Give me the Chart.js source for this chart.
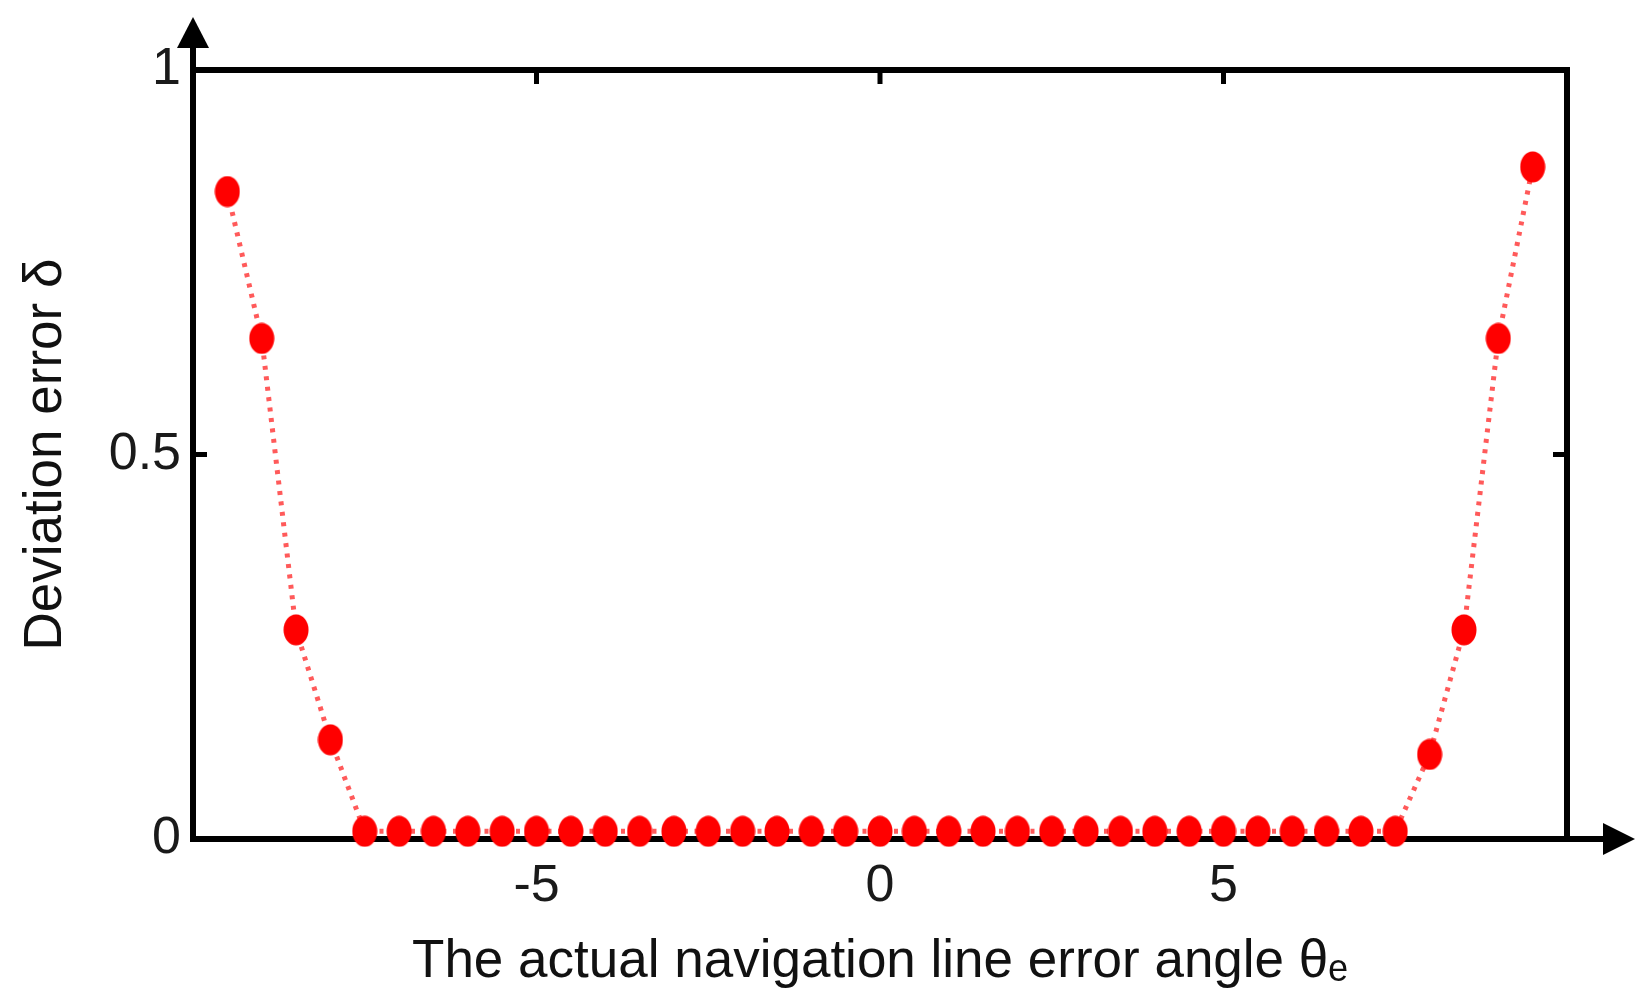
<!DOCTYPE html>
<html>
<head>
<meta charset="utf-8">
<script src="https://cdn.jsdelivr.net/npm/chart.js@4/dist/chart.umd.min.js"></script>
<style>
  html, body { margin: 0; padding: 0; background: #ffffff; }
  #wrap { width: 1652px; height: 1008px; position: relative; }
</style>
</head>
<body>
<div id="wrap"><canvas id="c" width="1652" height="1008"></canvas></div>
<script>
// ---- data ----
const angleValues = [-9.5, -9, -8.5, -8, -7.5, -7, -6.5, -6, -5.5, -5, -4.5, -4, -3.5, -3, -2.5, -2, -1.5, -1, -0.5, 0,
                     0.5, 1, 1.5, 2, 2.5, 3, 3.5, 4, 4.5, 5, 5.5, 6, 6.5, 7, 7.5, 8, 8.5, 9, 9.5];
const deviationValues = [0.842, 0.651, 0.272, 0.129, 0.01, 0.01, 0.01, 0.01, 0.01, 0.01, 0.01, 0.01, 0.01, 0.01, 0.01, 0.01, 0.01, 0.01, 0.01, 0.01,
                         0.01, 0.01, 0.01, 0.01, 0.01, 0.01, 0.01, 0.01, 0.01, 0.01, 0.01, 0.01, 0.01, 0.01, 0.01, 0.11, 0.272, 0.651, 0.874];
const xTickValues = [-5, 0, 5];
const yTickValues = [0, 0.5, 1];
const xTickLabels = ['-5', '0', '5'];
const yTickLabels = ['0', '0.5', '1'];
const xAxisTitle = 'The actual navigation line error angle θₑ';
const yAxisTitle = 'Deviation error δ';

// ---- marker image ----
const marker = document.createElement('canvas');
marker.width = 26; marker.height = 32;
(function () {
  const m = marker.getContext('2d');
  m.fillStyle = '#ff0000';
  m.beginPath();
  m.ellipse(13, 16, 12.5, 15.5, 0, 0, Math.PI * 2);
  m.fill();
})();

// ---- frame / arrows / inward ticks ----
const framePlugin = {
  id: 'frame',
  beforeDatasetsDraw(chart) {
    const { ctx, chartArea: ca, scales } = chart;
    const lw = 6;
    ctx.save();
    ctx.strokeStyle = '#000';
    ctx.fillStyle = '#000';
    ctx.lineWidth = lw;
    ctx.lineCap = 'butt';
    // top and right border
    ctx.beginPath();
    ctx.moveTo(ca.left, ca.top);
    ctx.lineTo(ca.right, ca.top);
    ctx.lineTo(ca.right, ca.bottom);
    ctx.stroke();
    // y axis with arrow
    const yTip = ca.top - 53;
    ctx.beginPath();
    ctx.moveTo(ca.left, ca.bottom + lw / 2);
    ctx.lineTo(ca.left, yTip + 20);
    ctx.stroke();
    ctx.beginPath();
    ctx.moveTo(ca.left, yTip);
    ctx.lineTo(ca.left - 16, yTip + 31);
    ctx.lineTo(ca.left + 16, yTip + 31);
    ctx.closePath();
    ctx.fill();
    // x axis with arrow
    const xTip = ca.right + 68;
    ctx.beginPath();
    ctx.moveTo(ca.left - lw / 2, ca.bottom);
    ctx.lineTo(xTip - 20, ca.bottom);
    ctx.stroke();
    ctx.beginPath();
    ctx.moveTo(xTip, ca.bottom);
    ctx.lineTo(xTip - 32, ca.bottom - 16);
    ctx.lineTo(xTip - 32, ca.bottom + 16);
    ctx.closePath();
    ctx.fill();
    // inward ticks
    const tl = 14;
    ctx.lineWidth = 5;
    ctx.beginPath();
    xTickValues.forEach(v => {
      const px = scales.x.getPixelForValue(v);
      ctx.moveTo(px, ca.top); ctx.lineTo(px, ca.top + tl);
      ctx.moveTo(px, ca.bottom); ctx.lineTo(px, ca.bottom - tl);
    });
    yTickValues.forEach(v => {
      const py = scales.y.getPixelForValue(v);
      ctx.moveTo(ca.left, py); ctx.lineTo(ca.left + tl, py);
      ctx.moveTo(ca.right, py); ctx.lineTo(ca.right - tl, py);
    });
    ctx.stroke();
    ctx.restore();
  }
};

const points = angleValues.map((x, i) => ({ x: x, y: deviationValues[i] }));
const tickFont = { family: "'Liberation Sans', Arial, sans-serif", size: 52 };
const titleFont = { family: "'Liberation Sans', Arial, sans-serif", size: 53 };

new Chart(document.getElementById('c'), {
  type: 'scatter',
  data: {
    datasets: [{
      data: points,
      showLine: true,
      borderColor: 'rgba(255,20,20,0.7)',
      borderWidth: 5,
      borderDash: [4, 6.5],
      pointStyle: marker,
      pointRadius: 13,
      pointHoverRadius: 13,
      backgroundColor: '#ff0000',
      clip: false
    }]
  },
  options: {
    responsive: false,
    animation: false,
    events: [],
    layout: { padding: { top: 70, right: 85, left: 0, bottom: 0 } },
    plugins: { legend: { display: false }, tooltip: { enabled: false } },
    scales: {
      x: {
        type: 'linear',
        min: -10, max: 10,
        afterBuildTicks: s => { s.ticks = xTickValues.map(v => ({ value: v })); },
        afterFit: s => { s.height = 169; },
        grid: { display: false, drawTicks: false },
        border: { display: false },
        ticks: {
          font: tickFont, color: '#1a1a1a', padding: 16, maxRotation: 0, autoSkip: false,
          callback: (v) => { const i = xTickValues.indexOf(v); return i >= 0 ? xTickLabels[i] : ''; }
        },
        title: { display: true, text: xAxisTitle, font: titleFont, color: '#111', padding: { top: 0, bottom: 14 } }
      },
      y: {
        type: 'linear',
        min: 0, max: 1,
        afterBuildTicks: s => { s.ticks = yTickValues.map(v => ({ value: v })); },
        afterFit: s => { s.width = 193; },
        grid: { display: false, drawTicks: false },
        border: { display: false },
        ticks: {
          font: tickFont, color: '#1a1a1a', padding: 12, autoSkip: false,
          callback: (v) => { const i = yTickValues.indexOf(v); return i >= 0 ? yTickLabels[i] : ''; }
        },
        title: { display: true, text: yAxisTitle, font: titleFont, color: '#111', padding: { top: 15, bottom: 0 } }
      }
    }
  },
  plugins: [framePlugin]
});
</script>
</body>
</html>
